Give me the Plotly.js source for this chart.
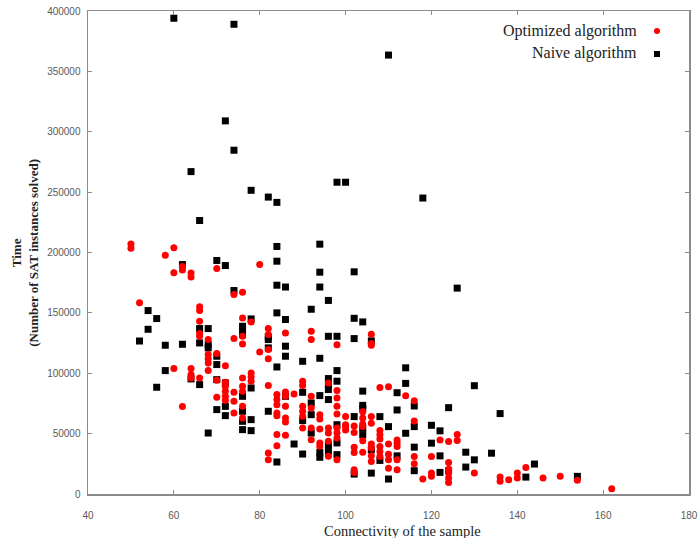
<!DOCTYPE html>
<html>
<head>
<meta charset="utf-8">
<script src="https://cdn.plot.ly/plotly-3.0.1.min.js"></script>
<style>html,body{margin:0;padding:0;background:#fff;}#chart{width:699px;height:538px;}</style>
</head>
<body>
<div id="chart"></div>
<script>
// Optimized algorithm (red circles)
var optX = [50,50,52,58,60,60,60,62,62,62,64,64,64,64,64,
  66,66,66,66,66,66,68,68,68,68,68,70,70,70,70,
  72,72,72,72,72,72,74,74,74,74,74,
  76,76,76,76,76,76,76,76,76,78,78,78,78,80,80,
  82,82,82,82,82,82,82,84,84,84,84,84,84,84,
  86,86,86,86,86,86,86,88,90,90,90,90,90,90,
  92,92,92,92,92,92,94,94,94,94,94,96,96,96,96,96,
  98,98,98,98,98,98,98,98,98,100,100,100,100,
  102,102,102,102,102,102,104,104,104,104,104,104,
  106,106,106,106,106,106,106,106,106,108,108,108,108,108,108,108,
  110,110,110,110,110,112,112,112,112,112,114,116,116,116,116,118,
  120,120,120,122,124,124,124,124,124,124,126,126,130,136,136,138,140,140,142,146,150,154,162];
var optY = [207000,203500,158300,197800,203900,183200,103900,188500,185500,72500,183100,179800,103900,98900,96100,
  155000,152000,143100,132900,130600,96100,127900,115500,112100,108500,102200,186700,116300,94200,80100,
  106300,92500,89200,85100,80900,77600,165200,128700,84200,76800,67100,
  167100,145800,130600,124300,96100,89200,85100,72600,63000,142500,100300,96900,93400,190000,117700,
  137000,132000,119600,112100,89800,34000,28400,82300,78200,74000,67100,64900,49200,40000,
  133400,84500,80900,72600,63000,59700,48600,82900,93400,89800,72600,68500,64400,54700,
  134800,127900,80900,71300,54700,45000,65700,62100,53900,42300,39500,92000,54700,50500,43600,31200,
  123700,85700,79500,72600,66300,54700,50500,46400,28400,64100,57300,55800,53100,
  56400,50900,38800,34400,20100,17900,68200,63000,58000,55800,44000,34600,
  132300,124600,123200,64100,58600,41500,38000,31600,27000,88300,52500,49000,45600,39300,35200,31100,
  88800,41500,33000,28300,21400,44800,42100,39300,28300,20100,81400,77300,60500,31100,25000,12400,
  31100,17300,14600,44800,43400,26100,20600,17300,13200,9600,49200,44300,17300,14000,10500,11800,17300,13200,22000,13200,14600,11300,4400];

// Naive algorithm (black squares)
var naiveX = [52,54,54,56,56,58,58,60,62,62,64,64,66,66,66,66,68,68,68,68,
  70,70,70,70,70,72,72,72,72,72,74,74,74,
  76,76,76,76,76,76,76,78,78,78,78,78,82,82,82,82,82,
  84,84,84,84,84,84,84,86,86,86,86,86,88,90,90,90,90,92,92,92,92,
  94,94,94,94,94,94,94,96,96,96,96,96,96,96,96,
  98,98,98,98,98,98,98,100,102,102,102,102,102,104,104,104,104,104,104,
  106,106,106,108,108,110,110,110,112,112,112,114,114,114,116,116,116,116,118,
  120,120,122,122,122,124,124,126,128,128,130,130,134,136,142,144,154];
var naiveY = [126700,151900,136400,145300,88400,123200,102200,394000,190000,124000,267000,95300,226500,137000,125100,90600,137000,123700,121000,50500,
  193400,114100,107200,94700,69900,309000,189200,92000,72600,64900,389000,284700,168500,
  138900,136200,132000,80900,68500,60200,53300,251500,145000,87800,61600,52500,245900,130100,127900,121000,68500,
  241500,205000,192800,172900,150000,105200,26500,171400,144500,122400,114100,80900,41400,109900,84200,60800,33100,153000,75400,65700,50500,
  206900,183700,171400,112400,81500,34500,30400,160300,130600,95600,90600,86500,78200,40900,35400,
  258200,130600,102200,93400,57400,42300,32600,258200,184000,145500,128700,64100,16500,142500,85200,73400,70900,54400,49000,
  126800,36600,17300,64100,27800,363500,55800,12400,83900,69600,31600,104500,91600,50300,72900,55800,38800,19300,245100,
  56900,42100,52300,31600,17900,71500,19300,170500,34600,22300,89700,28300,33800,66600,14000,24800,14600];

var xTicks = [40,60,80,100,120,140,160,180];
var yTicks = [0,50000,100000,150000,200000,250000,300000,350000,400000];

var traces = [
  {type:'scatter', mode:'markers', name:'Naive algorithm', x:naiveX, y:naiveY,
   marker:{symbol:'square', size:7, color:'#000000'}, cliponaxis:false},
  {type:'scatter', mode:'markers', name:'Optimized algorithm', x:optX, y:optY,
   marker:{symbol:'circle', size:7, color:'#ff0000'}, cliponaxis:false}
];

var axisCommon = {
  showgrid:false, zeroline:false, showline:true, linecolor:'#8c8c8c', linewidth:1.5,
  mirror:'ticks', ticks:'inside', ticklen:4, tickcolor:'#8c8c8c', tickwidth:1,
  tickfont:{family:'Liberation Sans, Arial, sans-serif', size:10, color:'#5a5a5a'}
};

var layout = {
  width:699, height:538,
  margin:{l:88, r:10, t:11, b:44},
  paper_bgcolor:'#ffffff', plot_bgcolor:'#ffffff',
  showlegend:false,
  xaxis:Object.assign({}, axisCommon, {range:[40,180], tickvals:xTicks, ticktext:xTicks.map(String), ticklabelstandoff:11}),
  yaxis:Object.assign({}, axisCommon, {range:[0,400000], tickvals:yTicks, ticktext:yTicks.map(String), ticklabelstandoff:4}),
  annotations:[
    {xref:'paper', yref:'paper', x:(402-88)/601, y:(494-531)/483, xanchor:'center', yanchor:'middle', showarrow:false,
     text:'Connectivity of the sample', font:{family:'Liberation Serif, Times New Roman, serif', size:14.5, color:'#222'}},
    {xref:'paper', yref:'paper', x:-0.106, y:0.5, xanchor:'center', yanchor:'middle', showarrow:false, textangle:-90,
     text:'<b>Time</b><br><b>(Number of SAT instances solved)</b>', font:{family:'Liberation Serif, Times New Roman, serif', size:13, color:'#222'}},
    {xref:'paper', yref:'paper', x:(639-88)/601, y:(494-31)/483, xanchor:'right', yanchor:'middle', showarrow:false,
     text:'Optimized algorithm', font:{family:'Liberation Serif, Times New Roman, serif', size:16, color:'#222'}},
    {xref:'paper', yref:'paper', x:(639-88)/601, y:(494-53)/483, xanchor:'right', yanchor:'middle', showarrow:false,
     text:'Naive algorithm', font:{family:'Liberation Serif, Times New Roman, serif', size:16, color:'#222'}}
  ],
  shapes:[
    {type:'circle', xref:'paper', yref:'paper', x0:(654-88)/601, x1:(660-88)/601, y0:(494-34)/483, y1:(494-28)/483,
     fillcolor:'#ff0000', line:{width:0}},
    {type:'rect', xref:'paper', yref:'paper', x0:(654-88)/601, x1:(660-88)/601, y0:(494-57)/483, y1:(494-51)/483,
     fillcolor:'#000000', line:{width:0}}
  ]
};

Plotly.newPlot('chart', traces, layout, {displayModeBar:false, staticPlot:true});
</script>
</body>
</html>
